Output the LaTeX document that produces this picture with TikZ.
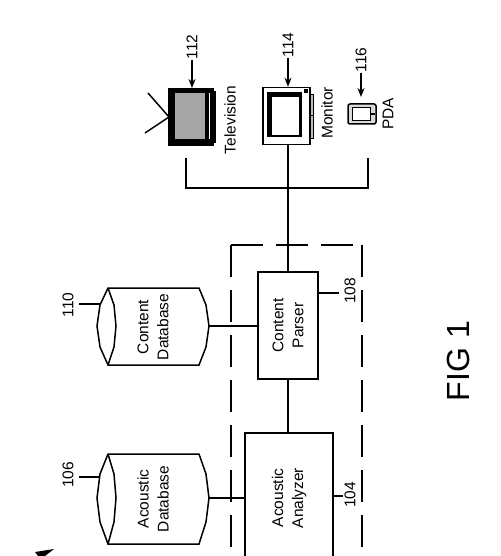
\documentclass[tikz,border=0pt]{standalone}
\usepackage{fontspec}
\setmainfont{Liberation Sans}
\usetikzlibrary{positioning}
\usetikzlibrary{arrows.meta}
\tikzset{
    labeltext/.style={rotate=90, font=\fontsize{15.5}{17}\selectfont, align=center, inner sep=0pt},
    boxnode/.style={labeltext, draw, line width=1.5pt},
    wire/.style={line width=1.5pt},
    pointer/.style={line width=1.6pt, -{Stealth[length=9pt,width=7pt]}},
    database/.style={line width=1.5pt, fill=white}
}
\begin{document}
\begin{tikzpicture}[x=1pt, y=-1pt]
    \path[use as bounding box, clip] (0, 0) rectangle (500, 556);

    % display devices
    \draw[wire] (169, 117) -- (148, 93);
    \draw[wire] (169, 117) -- (145, 133);
    \draw[fill=black] (168, 88) rectangle (213, 145);
    \draw[fill=black!35, draw=none] (175, 93) rectangle (205, 139);
    \draw[fill=black] (213, 91) rectangle (215, 142);
    \draw[draw=white, line width=1pt] (209, 93) -- (209, 139);
    \coordinate (tvtop) at (192, 88);
    \node[labeltext] at (230, 120) {Television};

    \node[draw, line width=1.5pt, minimum width=47pt, minimum height=57pt, inner sep=0pt] (monitor) at (286.5, 116) {};
    \draw[fill=black!25, line width=0.8pt] (310, 94) rectangle (313, 115);
    \draw[fill=black!25, line width=0.8pt] (310, 115) rectangle (313, 138);
    \draw[fill=black, draw=none] (267, 92) rectangle (302, 137);
    \draw[fill=white, draw=none] (272, 97) rectangle (299, 135);
    \fill (304, 89) rectangle (308, 93);
    \node[labeltext] at (327, 113) {Monitor};

    \draw[fill=black!15, line width=1.5pt, rounded corners=2pt] (348, 104) rectangle (376, 124);
    \draw[fill=white, line width=1pt] (352, 108) rectangle (370, 121);
    \fill (370, 113) rectangle (375, 115);
    \coordinate (pdatop) at (361, 97);
    \node[labeltext] at (388, 114) {PDA};

    % reference numbers of the devices
    \node[labeltext] (num112) at (192, 47) {112};
    \node[labeltext] (num114) at (288, 45) {114};
    \node[labeltext] (num116) at (361, 60) {116};
    \draw[pointer] (num112.west) -- (tvtop);
    \draw[pointer] (num114.west) -- (monitor.north -| num114.west);
    \draw[pointer] (num116.west) -- (pdatop);

    % device bus
    \coordinate (busl) at (186, 158);
    \coordinate (busr) at (368, 158);
    \draw[wire] (busl) -- (186, 188) -- (368, 188) -- (busr);

    % dashed system boundary
    \draw[line width=1.5pt, dash pattern=on 32pt off 13pt] (231, 245) -- (362, 245);
    \draw[line width=1.5pt, dash pattern=on 32pt off 13pt] (231, 245) -- (231, 556);
    \draw[line width=1.5pt, dash pattern=on 32pt off 13pt] (362, 245) -- (362, 556);

    % processing blocks
    \node[boxnode, fill=white, minimum width=107pt, minimum height=60pt] (parser) at (288, 325.5) {Content\\[3pt]Parser};
    \node[boxnode, fill=white, minimum width=130pt, minimum height=88pt] (analyzer) at (289, 498) {Acoustic\\[3pt]Analyzer};
    \draw[wire] (monitor.south -| parser.center) -- (parser.east);
    \draw[wire] (parser.west) -- (parser.west |- analyzer.east);

    % databases
    \draw[database] (108, 288) -- (199, 288) -- (206, 305) -- (209, 326) -- (206, 347) -- (199, 365) -- (108, 365)
        -- (100, 347) -- (97, 326) -- (100, 305) -- cycle;
    \draw[wire] (108, 288) -- (114, 305) -- (116, 326) -- (114, 347) -- (108, 365);
    \node[labeltext] (contentdb) at (153, 327) {Content\\[3pt]Database};
    \coordinate (contentdbr) at (209, 326);

    \draw[database] (108, 454) -- (199, 454) -- (206, 474) -- (209, 498) -- (206, 522) -- (199, 544) -- (108, 544)
        -- (100, 522) -- (97, 498) -- (100, 474) -- cycle;
    \draw[wire] (108, 454) -- (114, 474) -- (116, 498) -- (114, 522) -- (108, 544);
    \node[labeltext] (acousticdb) at (153, 499) {Acoustic\\[3pt]Database};
    \coordinate (acousticdbr) at (209, 498);

    \draw[wire] (contentdbr) -- (parser.north |- contentdbr);
    \draw[wire] (acousticdbr) -- (analyzer.north |- acousticdbr);

    % reference numbers of the blocks
    \node[labeltext] (num110) at (68, 305) {110};
    \node[labeltext] (num106) at (68, 475) {106};
    \node[labeltext] (num108) at (350, 291) {108};
    \node[labeltext] (num104) at (350, 495) {104};
    \coordinate (lead110) at (100, 304);
    \coordinate (lead106) at (100, 477);
    \draw[wire] (num110.south |- lead110) ++(5, 0) -- (lead110);
    \draw[wire] (num106.south |- lead106) ++(5, 0) -- (lead106);
    \draw[wire] (parser.south |- 0, 293) -- (339, 293);
    \draw[wire] (analyzer.south |- 0, 496) -- (343, 496);

    \node[rotate=90, font=\fontsize{32}{34}\selectfont, inner sep=0pt] (figlabel) at (458, 361) {FIG 1};

    % arrowhead cut off by the page edge
    \fill (35, 552) -- (54, 549) -- (45, 556) -- (38, 556) -- cycle;
\end{tikzpicture}
\end{document}
